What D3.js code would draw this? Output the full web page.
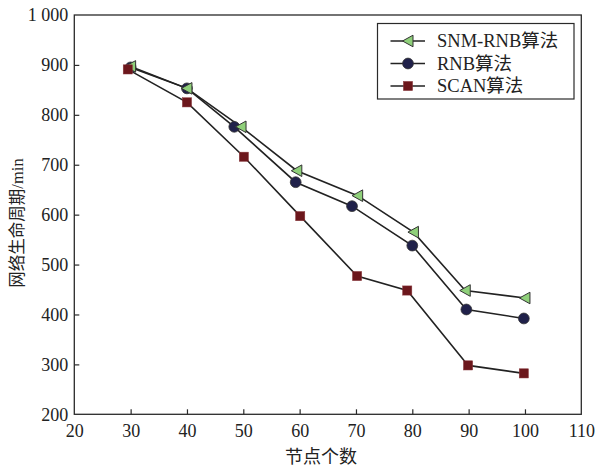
<!DOCTYPE html>
<html><head><meta charset="utf-8">
<script src="https://cdn.jsdelivr.net/npm/d3@7"></script>
<style>body{margin:0;background:#fff}svg{display:block}</style>
</head><body>
<svg id="c" width="596" height="470"></svg>
<script>
const seriesNames = ["SNM-RNB算法", "RNB算法", "SCAN算法"];
const snmX = [30, 40, 49.6, 59.5, 70.3, 80.2, 89.4, 100];
const snmY = [897, 853, 776, 688, 638, 565, 448, 433];
const rnbX = [30, 40, 48.4, 59.3, 69.3, 80, 89.6, 99.8];
const rnbY = [895, 853, 776, 665, 617, 538, 410, 392];
const scanX = [29.5, 40, 50.1, 60.1, 70.2, 79.1, 89.9, 99.8];
const scanY = [891, 825, 716, 597, 477, 448, 298, 282];
const xTicks = [20, 30, 40, 50, 60, 70, 80, 90, 100, 110];
const yTicks = [200, 300, 400, 500, 600, 700, 800, 900, 1000];
const xTitle = "节点个数";
const yTitle = "网络生命周期/min";

const svg = d3.select("#c");
const L = 74.3, R = 581.3, T = 15, B = 414.3;
const x = d3.scaleLinear().domain([20, 110]).range([L, R]);
const y = d3.scaleLinear().domain([200, 1000]).range([B, T]);
const font = "'Liberation Serif','Times New Roman','Noto Sans CJK SC',serif";
const ax = "#2a2a2a";

// axes
const gx = svg.append("g").attr("transform", `translate(0,${B})`)
  .call(d3.axisBottom(x).tickValues(xTicks).tickSize(-5).tickPadding(10).tickFormat(d3.format("d")));
const gy = svg.append("g").attr("transform", `translate(${L},0)`)
  .call(d3.axisLeft(y).tickValues(yTicks).tickSize(-5).tickPadding(6)
    .tickFormat(d => d === 1000 ? "1 000" : String(d)));
[gx, gy].forEach(g => {
  g.select(".domain").remove();
  g.selectAll(".tick line").attr("stroke", ax).attr("stroke-width", 1.2);
  g.selectAll(".tick text").attr("font-family", font).attr("font-size", 18).attr("fill", "#222");
});
gx.selectAll(".tick").filter(d => d === 20 || d === 110).select("line").remove();
gy.selectAll(".tick").filter(d => d === 200 || d === 1000).select("line").remove();
gx.selectAll(".tick text").attr("dy", "0.71em");

// frame
svg.append("rect").attr("x", L).attr("y", T).attr("width", R - L).attr("height", B - T)
  .attr("fill", "none").attr("stroke", ax).attr("stroke-width", 1.3);

// titles
svg.append("text").attr("x", 321).attr("y", 463).attr("text-anchor", "middle")
  .attr("font-family", font).attr("font-size", 18).attr("fill", "#222").text(xTitle);
svg.append("text").attr("transform", "translate(23,223) rotate(-90)").attr("text-anchor", "middle")
  .attr("font-family", font).attr("font-size", 16.5).attr("fill", "#222").text(yTitle);

const line = d3.line().x(d => x(d[0])).y(d => y(d[1]));
const series = [
  {name: seriesNames[1], xs: rnbX, ys: rnbY, type: "circle"},
  {name: seriesNames[0], xs: snmX, ys: snmY, type: "tri"},
  {name: seriesNames[2], xs: scanX, ys: scanY, type: "square"}
];
const triSym = "M-5.5,0L5,-5.8L5,5.8Z";
function marker(g, type, cx, cy) {
  if (type === "circle") {
    g.append("circle").attr("cx", cx).attr("cy", cy).attr("r", 5.4)
      .attr("fill", "#20214a").attr("stroke", "#333").attr("stroke-width", 0.8);
  } else if (type === "tri") {
    g.append("path").attr("d", triSym).attr("transform", `translate(${cx},${cy})`)
      .attr("fill", "#8fd07a").attr("stroke", "#333").attr("stroke-width", 1);
  } else {
    g.append("rect").attr("x", cx - 4.6).attr("y", cy - 4.6).attr("width", 9.2).attr("height", 9.2)
      .attr("fill", "#6c171c").attr("stroke", "#8a3a3e").attr("stroke-width", 0.5);
  }
}
series.forEach(s => {
  const pts = s.xs.map((v, i) => [v, s.ys[i]]);
  svg.append("path").datum(pts).attr("d", line).attr("fill", "none")
    .attr("stroke", "#222").attr("stroke-width", 1.6);
});
series.forEach(s => {
  const g = svg.append("g");
  s.xs.forEach((v, i) => marker(g, s.type, x(v), y(s.ys[i])));
});

// legend
const lg = svg.append("g");
lg.append("rect").attr("x", 377.5).attr("y", 23.5).attr("width", 196.5).attr("height", 75.5)
  .attr("fill", "#fff").attr("stroke", ax).attr("stroke-width", 1.2);
const legItems = [
  {name: seriesNames[0], type: "tri"},
  {name: seriesNames[1], type: "circle"},
  {name: seriesNames[2], type: "square"}
];
legItems.forEach((it, i) => {
  const cy = 41 + i * 22.5;
  lg.append("line").attr("x1", 390.5).attr("x2", 425).attr("y1", cy).attr("y2", cy)
    .attr("stroke", "#222").attr("stroke-width", 1.6);
  marker(lg, it.type, 408, cy);
  lg.append("text").attr("x", 437).attr("y", cy).attr("dy", "0.35em")
    .attr("font-family", font).attr("font-size", 18.5).attr("fill", "#222").text(it.name);
});
</script>
</body></html>
